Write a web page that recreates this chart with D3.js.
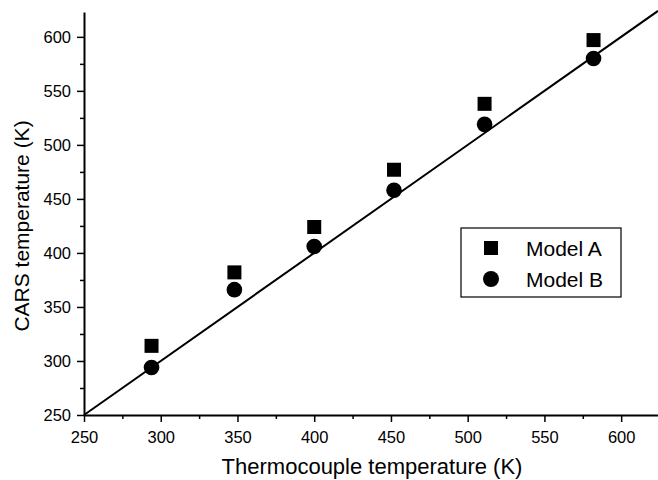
<!DOCTYPE html>
<html>
<head>
<meta charset="utf-8">
<script src="https://cdn.jsdelivr.net/npm/d3@7"></script>
<style>
  html, body { margin: 0; padding: 0; background: #fff; }
  svg { display: block; font-family: "Liberation Sans", Arial, Helvetica, sans-serif; }
</style>
</head>
<body>
<svg id="chart" width="658" height="480"></svg>
<script>
// Thermocouple reading (K) for each measurement point
const thermocouple = [294, 348, 400, 452, 511, 582];
// CARS temperatures from the two spectral models (K)
const modelA = [314, 382, 424, 477, 538, 597];
const modelB = [294, 366, 406, 458, 519, 580];
const xTicks = [250, 300, 350, 400, 450, 500, 550, 600];
const yTicks = [250, 300, 350, 400, 450, 500, 550, 600];
const seriesNames = ["Model A", "Model B"];

(function () {
const svg = d3.select("#chart");
const mLeft = 84, mBottom = 415, mRight = 658, mTop = 12;

const x = d3.scaleLinear().domain([250, 624]).range([mLeft, mRight]);
const y = d3.scaleLinear().domain([250, 623]).range([mBottom, mTop]);

// minor ticks halfway between labelled ones
const xMinor = xTicks.map(v => v + 25).filter(v => v < 624);
const yMinor = yTicks.map(v => v + 25).filter(v => v < 623);

const gx = svg.append("g").attr("transform", `translate(0,${mBottom})`);
gx.call(d3.axisBottom(x).tickValues(xTicks).tickSize(7).tickSizeOuter(0).tickPadding(9));
gx.append("g").call(d3.axisBottom(x).tickValues(xMinor).tickSize(4).tickFormat(""))
  .select(".domain").remove();

const gy = svg.append("g").attr("transform", `translate(${mLeft},0)`);
gy.call(d3.axisLeft(y).tickValues(yTicks).tickSize(7).tickSizeOuter(0).tickPadding(6));
gy.append("g").call(d3.axisLeft(y).tickValues(yMinor).tickSize(4).tickFormat(""))
  .select(".domain").remove();

svg.selectAll(".domain").attr("stroke", "#000").attr("stroke-width", 2);
svg.selectAll(".tick line").attr("stroke", "#000").attr("stroke-width", 1.5);
svg.selectAll(".tick text").attr("font-size", 16.5).attr("fill", "#000")
  .attr("font-family", "'Liberation Sans', Arial, sans-serif");

// y = x reference line
svg.append("line")
  .attr("x1", x(250)).attr("y1", y(250))
  .attr("x2", x(624)).attr("y2", y(624))
  .attr("stroke", "#000").attr("stroke-width", 2);

const sq = 14, rad = 7.8;
svg.append("g").selectAll("rect").data(thermocouple).join("rect")
  .attr("x", (d) => x(d) - sq / 2)
  .attr("y", (d, i) => y(modelA[i]) - sq / 2)
  .attr("width", sq).attr("height", sq).attr("fill", "#000");

svg.append("g").selectAll("circle").data(thermocouple).join("circle")
  .attr("cx", d => x(d))
  .attr("cy", (d, i) => y(modelB[i]))
  .attr("r", rad).attr("fill", "#000");

// axis titles
svg.append("text")
  .attr("x", 372).attr("y", 474)
  .attr("text-anchor", "middle").attr("font-size", 22)
  .text("Thermocouple temperature (K)");

svg.append("text")
  .attr("transform", "translate(29,226) rotate(-90)")
  .attr("text-anchor", "middle").attr("font-size", 21)
  .text("CARS temperature (K)");

// legend
const lg = svg.append("g").attr("transform", "translate(461,228)");
lg.append("rect").attr("width", 160).attr("height", 69)
  .attr("fill", "#fff").attr("stroke", "#000").attr("stroke-width", 1.2);
lg.append("rect").attr("x", 30 - 7).attr("y", 20 - 7).attr("width", 14).attr("height", 14).attr("fill", "#000");
lg.append("circle").attr("cx", 30).attr("cy", 51).attr("r", 8).attr("fill", "#000");
lg.selectAll("text.lab").data(seriesNames).join("text")
  .attr("class", "lab")
  .attr("x", 65).attr("y", (d, i) => 20 + i * 31 + 7.5)
  .attr("font-size", 21)
  .text(d => d);
})();
</script>
</body>
</html>
